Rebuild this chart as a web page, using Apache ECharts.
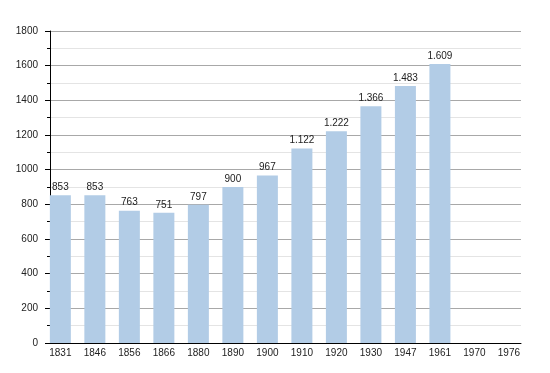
<!DOCTYPE html>
<html>
<head>
<meta charset="utf-8">
<script src="https://cdn.jsdelivr.net/npm/echarts@6/dist/echarts.min.js"></script>
<style>
html,body{margin:0;padding:0;background:#fff;}
#chart{width:550px;height:373px;}
</style>
</head>
<body>
<div id="chart"></div>
<script>
var years = ['1831','1846','1856','1866','1880','1890','1900','1910','1920','1930','1947','1961','1970','1976'];
var population = [853, 853, 763, 751, 797, 900, 967, 1122, 1222, 1366, 1483, 1609, null, null];
var yTicks = [0, 200, 400, 600, 800, 1000, 1200, 1400, 1600, 1800];

var seriesData = years.map(function (y, i) { return [i, population[i]]; });
var font = 'Liberation Sans, Arial, sans-serif';

function fmt(v) {
  var s = String(v);
  if (v >= 1000) s = s.slice(0, s.length - 3) + '.' + s.slice(s.length - 3);
  return s;
}

var chart = echarts.init(document.getElementById('chart'));
chart.setOption({
  animation: false,
  backgroundColor: '#ffffff',
  grid: { left: 50, right: 29, top: 31, bottom: 30, containLabel: false },
  xAxis: {
    type: 'value',
    min: -0.3,
    max: 13.35,
    axisLine: { show: true, onZero: false, lineStyle: { color: '#000', width: 1 } },
    axisTick: { show: false },
    splitLine: { show: false },
    axisLabel: {
      customValues: years.map(function (y, i) { return i; }),
      formatter: function (v) { return years[Math.round(v)]; },
      color: '#222',
      fontFamily: font,
      fontSize: 10,
      margin: 5
    }
  },
  yAxis: {
    type: 'value',
    min: yTicks[0],
    max: yTicks[yTicks.length - 1],
    interval: 200,
    axisLine: { show: true, onZero: false, lineStyle: { color: '#000', width: 1 } },
    axisTick: { show: true, length: 5, lineStyle: { color: '#000' } },
    minorTick: { show: true, splitNumber: 2, length: 3, lineStyle: { color: '#000' } },
    splitLine: { show: true, lineStyle: { color: '#a8a8a8', width: 1 } },
    minorSplitLine: { show: true, lineStyle: { color: '#e4e4e4', width: 1 } },
    axisLabel: {
      color: '#222',
      fontFamily: font,
      fontSize: 10,
      margin: 12,
      formatter: function (v) { return String(v); }
    }
  },
  series: [{
    type: 'bar',
    data: seriesData,
    barWidth: 21,
    itemStyle: { color: '#b2cce6' },
    label: {
      show: true,
      position: 'top',
      distance: 3,
      color: '#222',
      fontFamily: font,
      fontSize: 10,
      formatter: function (p) { return fmt(p.value[1]); }
    }
  }]
});
</script>
</body>
</html>
